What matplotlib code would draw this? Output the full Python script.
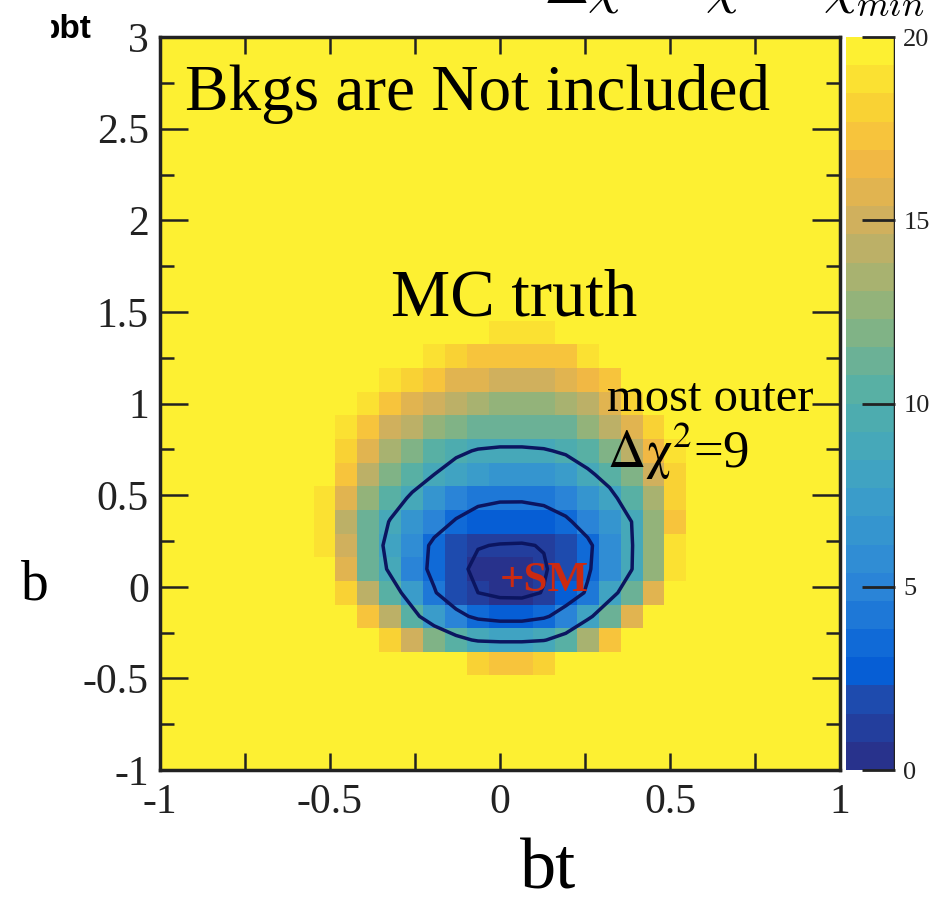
import numpy as np
import matplotlib
matplotlib.use("Agg")
import matplotlib.pyplot as plt
from matplotlib.colors import LinearSegmentedColormap, BoundaryNorm
from matplotlib.patches import Rectangle

# 31 x 31 bins, bt in [-1, 1], b in [-1, 3]
n_bt, n_b = 31, 31
bt_range = (-1, 1)
b_range = (-1, 3)

# delta chi2 read off the cells (columns bt-bin 6..24, rows b-bin 18 down to 4)
# every other cell is saturated (>= 20)
col0, row_top = 6, 18
dchi2_rows = [
    [20, 20, 20, 20, 20, 20, 20, 20, 20, 18.5, 18.5, 18.5, 20, 20, 20, 20, 20, 20, 20],
    [20, 20, 20, 20, 20, 19.5, 19, 18, 17.5, 17.5, 17, 17, 17.5, 18.5, 19.5, 20, 20, 20, 20],
    [20, 20, 20, 20, 19, 18, 17, 16, 15.5, 15, 15, 15, 15.5, 16.5, 17.5, 19.5, 20, 20, 20],
    [20, 20, 20, 19, 17, 16, 15, 14, 13.5, 13, 12.5, 13, 13.5, 14.5, 16, 18, 19.5, 20, 20],
    [20, 20, 19, 17, 15, 14, 13, 12, 11.5, 11, 11, 11, 11.5, 12.5, 14, 16, 18, 19.5, 20],
    [20, 20, 18, 16, 13.5, 12, 10.5, 9.5, 8.8, 8.6, 8.6, 8.8, 9.3, 10.5, 12, 14, 16.5, 19, 20],
    [20, 19.5, 17, 14.5, 12, 10.5, 9, 7.8, 7, 6.5, 6.5, 6.8, 7.5, 8.5, 10, 12, 15, 18, 20],
    [20, 19, 16, 13, 10.5, 8.5, 6.5, 5.3, 4.6, 4.3, 4.3, 4.6, 5.3, 6.5, 8.2, 10.5, 13.5, 18, 20],
    [20, 18.5, 14.5, 11.5, 8.8, 6.5, 5, 3.8, 2.9, 2.5, 2.4, 2.7, 3.6, 5, 6.8, 9, 13, 17.5, 20],
    [20, 19, 15, 11, 8, 5.5, 3.5, 2, 1.1, 0.9, 0.85, 1.1, 2, 3.5, 5.8, 8.8, 13, 18.5, 20],
    [20, 19.5, 15.5, 11.5, 8.5, 5.2, 3.4, 1.6, 0.5, 0.1, 0.05, 0.8, 2, 3.7, 5.8, 8.9, 13, 18.5, 20],
    [20, 20, 18, 14, 10.5, 7.5, 4.2, 2.2, 1, 0.5, 0.45, 1.1, 2.5, 4.3, 7.8, 11, 16, 19.5, 20],
    [20, 20, 20, 17.5, 14, 10, 7, 4.8, 3.4, 2.9, 2.9, 3.6, 5.2, 8.3, 11.5, 16, 19.5, 20, 20],
    [20, 20, 20, 20, 18, 15, 12, 10, 8.6, 8.3, 8.3, 8.8, 10.5, 13.5, 17, 20, 20, 20, 20],
    [20, 20, 20, 20, 20, 20, 20, 20, 18, 17.5, 17.5, 18, 20, 20, 20, 20, 20, 20, 20],
]
contour_levels = [1, 4, 9]
zmax = 20
cbar_ticks = [0, 5, 10, 15, 20]

Z = np.full((n_b, n_bt), float(zmax))
block = np.array(dchi2_rows, dtype=float)[::-1]
r0 = row_top - block.shape[0] + 1
Z[r0:row_top + 1, col0:col0 + block.shape[1]] = block

xe = np.linspace(bt_range[0], bt_range[1], n_bt + 1)
ye = np.linspace(b_range[0], b_range[1], n_b + 1)
xm = 0.5 * (xe[1:] + xe[:-1])
ym = 0.5 * (ye[1:] + ye[:-1])

plt.rcParams["font.family"] = ["Liberation Serif", "DejaVu Serif"]
plt.rcParams["mathtext.fontset"] = "stix"

# parula-like palette, a bit washed out like the original
stops = [(0.0, (40, 50, 140)), (0.08, (30, 75, 175)), (0.12, (5, 95, 215)),
         (0.25, (45, 135, 215)), (0.375, (60, 160, 200)), (0.5, (80, 175, 170)),
         (0.625, (140, 180, 125)), (0.75, (205, 175, 95)), (0.85, (245, 185, 65)),
         (0.93, (250, 215, 50)), (1.0, (253, 242, 50))]
cmap = LinearSegmentedColormap.from_list("bird", [(p, tuple(c / 255 for c in rgb)) for p, rgb in stops])
norm = BoundaryNorm(np.linspace(0, zmax, 27), cmap.N)

fig = plt.figure(figsize=(9.41, 9.0), dpi=100)
ax = fig.add_axes([0.170, 0.1444, 0.7226, 0.8144])
mesh = ax.pcolormesh(xe, ye, np.clip(Z, 0, zmax - 0.01), cmap=cmap, norm=norm)
ax.contour(xm, ym, Z, levels=contour_levels, colors="#0b1560", linewidths=2.5)

ax.set_xlim(*bt_range)
ax.set_ylim(*b_range)
ax.set_xticks([-1, -0.5, 0, 0.5, 1])
ax.set_xticklabels(["-1", "-0.5", "0", "0.5", "1"])
ax.set_xticks(np.arange(-1, 1.01, 0.25), minor=True)
ax.set_yticks([-1, -0.5, 0, 0.5, 1, 1.5, 2, 2.5, 3])
ax.set_yticklabels(["-1", "-0.5", "0", "0.5", "1", "1.5", "2", "2.5", "3"])
ax.set_yticks(np.arange(-1, 3.01, 0.25), minor=True)
ax.tick_params(which="both", direction="in", top=True, right=True, labelsize=30, width=1.8, colors="#222222")
ax.tick_params(axis="x", which="both", length=12, pad=10)
ax.tick_params(axis="y", which="major", length=20, pad=8)
ax.tick_params(axis="y", which="minor", length=10)
for sp in ax.spines.values():
    sp.set_linewidth(2.5)
    sp.set_color("#222222")

ax.text(-0.926, 2.60, "Bkgs are Not included", fontsize=47)
ax.text(0.041, 1.483, "MC truth", fontsize=48, ha="center")
ax.text(0.315, 0.96, "most outer", fontsize=35)
ax.text(0.315, 0.65, r"$\Delta\mathrm{\chi}^{2}$=9", fontsize=38)
ax.text(0.0, 0.03, "+SM", fontsize=31, color="#cc2a10", fontweight="bold", va="center")

cax = fig.add_axes([0.899, 0.1444, 0.052, 0.8144])
cb = fig.colorbar(mesh, cax=cax, ticks=cbar_ticks)
cb.minorticks_off()
cb.outline.set_linewidth(0)
cax.axvline(1, color="#222222", lw=2.5)
cax.tick_params(direction="in", length=24, width=2, labelsize=19, colors="#222222", pad=6)
cb.set_ticklabels([str(t) for t in cbar_ticks])

fig.text(0.5825, 0.013, "bt", fontsize=52, ha="center")
fig.text(0.022, 0.334, "b", fontsize=40)
fig.text(0.983, 0.9956, r"$\Delta\chi^{2} = \chi^{2} - \chi^{2}_{min}$", fontsize=38,
         ha="right", va="baseline", math_fontfamily="cm")
fig.text(0.0425, 0.958, "bbt", fontsize=24, fontweight="bold", family="Liberation Sans")
fig.add_artist(Rectangle((0, 0.94), 0.053, 0.06, transform=fig.transFigure, color="white", zorder=10))

fig.savefig("out.png")
